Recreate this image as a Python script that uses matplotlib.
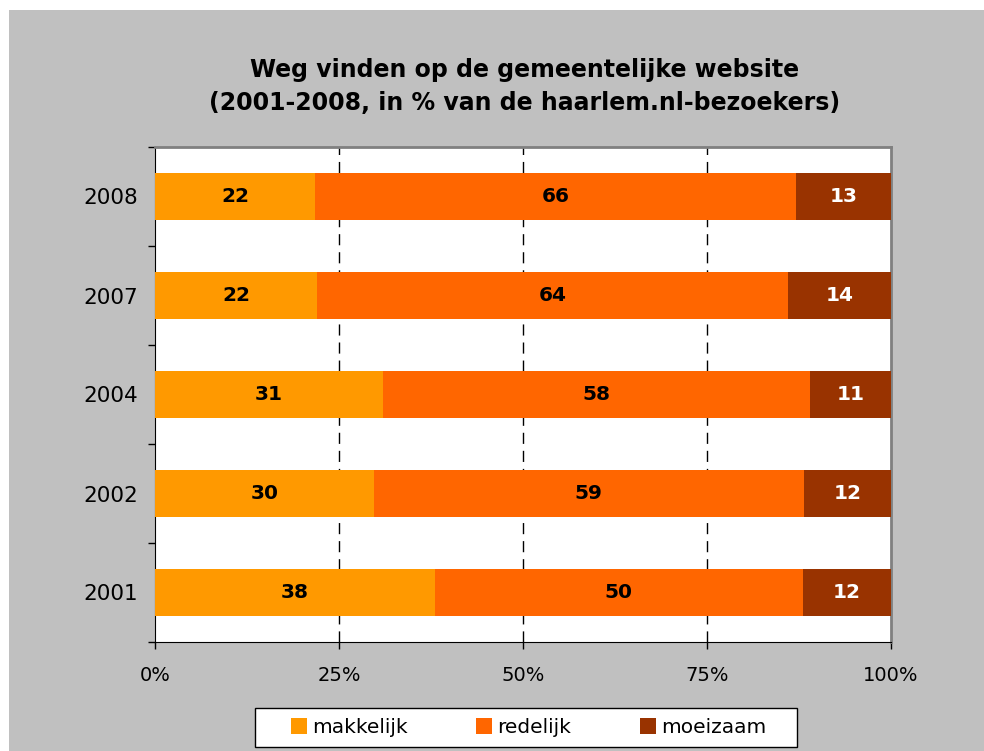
import matplotlib
matplotlib.use("Agg")
import matplotlib.pyplot as plt
from matplotlib.patches import Rectangle, Patch
import numpy as np

years = ["2001", "2002", "2004", "2007", "2008"]
makkelijk = [38, 30, 31, 22, 22]
redelijk = [50, 59, 58, 64, 66]
moeizaam = [12, 12, 11, 14, 13]
series_names = ["makkelijk", "redelijk", "moeizaam"]
colors = ["#FF9900", "#FF6600", "#993300"]
label_colors = ["black", "black", "white"]
xticks = [0, 25, 50, 75, 100]
xticklabels = ["0%", "25%", "50%", "75%", "100%"]

W, H = 984, 751
fig = plt.figure(figsize=(W / 100, H / 100), dpi=100)
fig.patch.set_facecolor("white")
# grey chart area
fig.patches.append(Rectangle((9 / W, 0), 1 - 9 / W, 1 - 10 / H, transform=fig.transFigure,
                             facecolor="#C0C0C0", edgecolor="none", zorder=-10))

ax = fig.add_axes([155 / W, 1 - 642 / H, 736 / W, 495 / H])
ax.set_facecolor("white")

data = np.array([makkelijk, redelijk, moeizaam], dtype=float)
totals = data.sum(axis=0)
pct = data / totals * 100
y = np.arange(len(years))
left = np.zeros(len(years))
for i in range(3):
    ax.barh(y, pct[i], left=left, height=0.47, color=colors[i], edgecolor="none",
            label=series_names[i], zorder=3)
    for j in range(len(years)):
        ax.text(left[j] + pct[i][j] / 2, y[j], str(int(data[i][j])), ha="center", va="center",
                fontsize=14.5, fontweight="bold", color=label_colors[i], zorder=4)
    left += pct[i]

ax.set_xlim(0, 100)
ax.set_ylim(-0.5, len(years) - 0.5)
ax.set_xticks(xticks)
ax.set_xticklabels(xticklabels, fontsize=14)
ax.set_yticks(y)
ax.set_yticklabels(years, fontsize=15.5)
ax.set_yticks(np.arange(-0.5, len(years), 1.0), minor=True)
ax.tick_params(axis="y", which="major", length=0, pad=12)
ax.tick_params(axis="y", which="minor", length=5, width=1, direction="out")
ax.tick_params(axis="x", which="major", length=5, width=1, direction="out", pad=12)

for xv in [25, 50, 75]:
    ax.axvline(xv, color="black", lw=1, linestyle=(0, (8, 5)), zorder=1)

ax.spines["left"].set_color("black")
ax.spines["bottom"].set_color("black")
ax.spines["top"].set_color("#808080")
ax.spines["right"].set_color("#808080")
ax.spines["right"].set_linewidth(2)
ax.spines["top"].set_linewidth(2)

fig.text(525 / W, 1 - 70 / H, "Weg vinden op de gemeentelijke website", ha="center", va="center",
         fontsize=17, fontweight="bold")
fig.text(525 / W, 1 - 103 / H, "(2001-2008, in % van de haarlem.nl-bezoekers)", ha="center", va="center",
         fontsize=17, fontweight="bold")

# legend box
fig.patches.append(Rectangle((255 / W, 1 - 747 / H), 542 / W, 39 / H, transform=fig.transFigure,
                             facecolor="white", edgecolor="black", lw=1, zorder=5))
handles = [Patch(facecolor=c, edgecolor="none") for c in colors]
leg = fig.legend(handles, series_names, loc="center", bbox_to_anchor=(528.5 / W, 1 - 727.5 / H),
                 ncol=3, fontsize=14.5, frameon=False,
                 handlelength=0.8, handleheight=0.8, handletextpad=0.25, columnspacing=3.4,
                 borderpad=0, borderaxespad=0)
leg.set_zorder(6)

fig.savefig("out.png", dpi=100, facecolor=fig.get_facecolor())
